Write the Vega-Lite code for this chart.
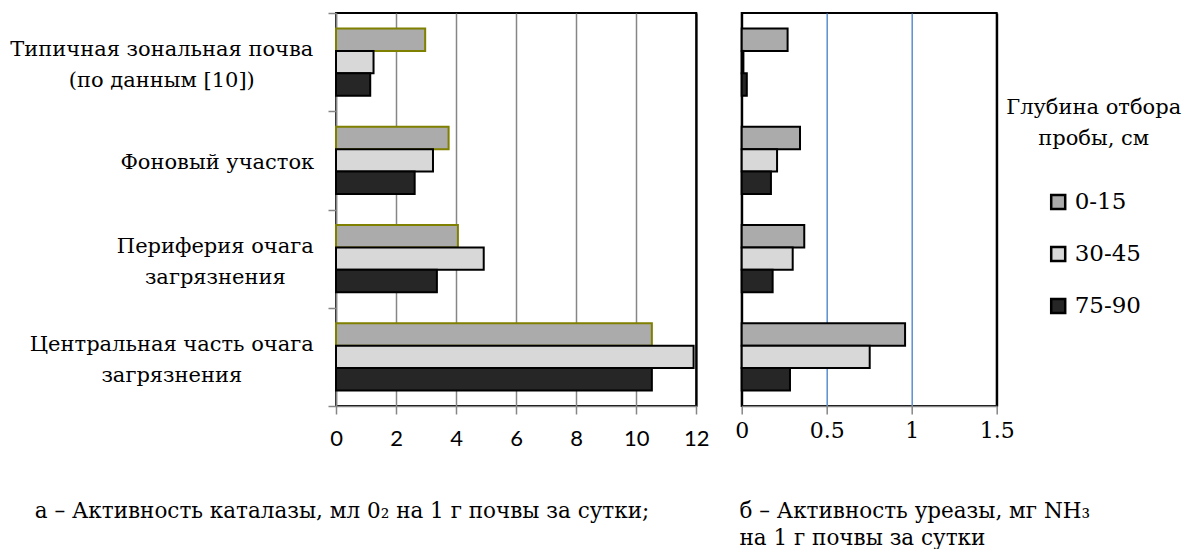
{
  "$schema": "https://vega.github.io/schema/vega-lite/v6.json",
  "padding": {"left": 8, "top": 1, "right": 0, "bottom": 0},
  "background": "white",
  "config": {
    "view": {"stroke": "black", "strokeWidth": 2},
    "font": "DejaVu Serif",
    "axis": {
      "labelFont": "DejaVu Serif",
      "titleFont": "DejaVu Serif",
      "labelColor": "black",
      "titleColor": "black",
      "titleFontWeight": "normal",
      "domainColor": "#868686",
      "tickColor": "#868686",
      "domainWidth": 1.5,
      "tickWidth": 1.5
    },
    "legend": {
      "titleFont": "DejaVu Serif",
      "labelFont": "DejaVu Serif"
    }
  },
  "datasets": {
    "soil": [
      {"site": "Типичная зональная почва|(по данным [10])", "depth": "0-15", "catalase": 2.97, "urease": 0.27},
      {"site": "Типичная зональная почва|(по данным [10])", "depth": "30-45", "catalase": 1.25, "urease": 0.01},
      {"site": "Типичная зональная почва|(по данным [10])", "depth": "75-90", "catalase": 1.14, "urease": 0.03},
      {"site": "Фоновый участок", "depth": "0-15", "catalase": 3.75, "urease": 0.343},
      {"site": "Фоновый участок", "depth": "30-45", "catalase": 3.23, "urease": 0.208},
      {"site": "Фоновый участок", "depth": "75-90", "catalase": 2.62, "urease": 0.172},
      {"site": "Периферия очага|загрязнения", "depth": "0-15", "catalase": 4.06, "urease": 0.368},
      {"site": "Периферия очага|загрязнения", "depth": "30-45", "catalase": 4.92, "urease": 0.30},
      {"site": "Периферия очага|загрязнения", "depth": "75-90", "catalase": 3.36, "urease": 0.182},
      {"site": "Центральная часть очага|загрязнения", "depth": "0-15", "catalase": 10.52, "urease": 0.961},
      {"site": "Центральная часть очага|загрязнения", "depth": "30-45", "catalase": 11.91, "urease": 0.753},
      {"site": "Центральная часть очага|загрязнения", "depth": "75-90", "catalase": 10.52, "urease": 0.284}
    ]
  },
  "spacing": 44.7,
  "bounds": "flush",
  "resolve": {"legend": {"fill": "independent"}},
  "hconcat": [
    {
      "data": {"name": "soil"},
      "width": 360.3,
      "height": 393,
      "mark": {"type": "bar", "strokeWidth": 2},
      "encoding": {
        "y": {
          "field": "site", "type": "nominal",
          "sort": ["Типичная зональная почва|(по данным [10])", "Фоновый участок", "Периферия очага|загрязнения", "Центральная часть очага|загрязнения"],
          "scale": {"paddingInner": 0, "paddingOuter": 0},
          "axis": {
            "title": null,
            "labelExpr": "split(datum.label, '|')",
            "labelFontSize": 21,
            "labelLineHeight": 31,
            "labelAlign": "center",
            "labelBaseline": "middle",
            "labelLimit": 0,
            "labelPadding": {
              "condition": [
                {"test": "datum.value === 'Типичная зональная почва|(по данным [10])'", "value": 166.7},
                {"test": "datum.value === 'Фоновый участок'", "value": 111.2},
                {"test": "datum.value === 'Периферия очага|загрязнения'", "value": 113.2}
              ],
              "value": 156.7
            },
            "labelOffset": {
              "condition": {"test": "datum.value === 'Фоновый участок'", "value": 2},
              "value": -12.5
            },
            "tickBand": "extent",
            "tickSize": 8
          }
        },
        "yOffset": {
          "field": "depth", "type": "nominal",
          "sort": ["0-15", "30-45", "75-90"],
          "scale": {"paddingInner": 0, "paddingOuter": 0.69}
        },
        "x": {
          "field": "catalase", "type": "quantitative",
          "scale": {"domain": [0, 12], "nice": false},
          "axis": {
            "values": [0, 2, 4, 6, 8, 10, 12],
            "labelFont": "Lato",
            "labelFontSize": 22,
            "labelPadding": 14,
            "labelFlush": false,
            "tickSize": 8,
            "grid": true,
            "gridColor": {"condition": {"test": "datum.value === 12", "value": "black"}, "value": "#868686"},
            "gridWidth": {"condition": {"test": "datum.value === 12", "value": 2}, "value": 1.5},
            "title": "а – Активность каталазы, мл 0₂ на 1 г почвы за сутки;",
            "titleFontSize": 21.5,
            "titleX": -301.7,
            "titleY": 111,
            "titleAlign": "left",
            "titleBaseline": "alphabetic",
            "titleAngle": 0
          }
        },
        "fill": {
          "field": "depth", "type": "nominal",
          "scale": {"domain": ["0-15", "30-45", "75-90"], "range": ["#ababab", "#d8d8d8", "#262626"]},
          "legend": null
        },
        "stroke": {"condition": {"test": "datum.depth === '0-15'", "value": "#7f7f00"}, "value": "black"}
      }
    },
    {
      "data": {"name": "soil"},
      "width": 255,
      "height": 393,
      "mark": {"type": "bar", "strokeWidth": 2, "stroke": "black"},
      "encoding": {
        "y": {
          "field": "site", "type": "nominal",
          "sort": ["Типичная зональная почва|(по данным [10])", "Фоновый участок", "Периферия очага|загрязнения", "Центральная часть очага|загрязнения"],
          "scale": {"paddingInner": 0, "paddingOuter": 0},
          "axis": null
        },
        "yOffset": {
          "field": "depth", "type": "nominal",
          "sort": ["0-15", "30-45", "75-90"],
          "scale": {"paddingInner": 0, "paddingOuter": 0.69}
        },
        "x": {
          "field": "urease", "type": "quantitative",
          "scale": {"domain": [0, 1.5], "nice": false},
          "axis": {
            "values": [0, 0.5, 1, 1.5],
            "format": ".1~f",
            "labelFontSize": 22,
            "labelPadding": 6,
            "labelFlush": false,
            "tickSize": 8,
            "grid": true,
            "gridColor": {"condition": {"test": "datum.value === 0 || datum.value === 1.5", "value": "black"}, "value": "#5b8fd0"},
            "gridWidth": {"condition": {"test": "datum.value === 0 || datum.value === 1.5", "value": 2}, "value": 1.5},
            "title": ["б – Активность уреазы, мг NH₃", "на 1 г почвы за сутки"],
            "titleFontSize": 21.5,
            "titleLineHeight": 27,
            "titleX": -2.7,
            "titleY": 111,
            "titleAlign": "left",
            "titleBaseline": "alphabetic",
            "titleAngle": 0
          }
        },
        "fill": {
          "field": "depth", "type": "nominal",
          "scale": {"domain": ["0-15", "30-45", "75-90"], "range": ["#ababab", "#d8d8d8", "#262626"]},
          "legend": {
            "orient": "none",
            "legendX": 265,
            "legendY": 83.5,
            "title": ["Глубина отбора", "пробы, см"],
            "titleFontSize": 21,
            "titleFontWeight": "normal",
            "titleColor": "black",
            "titleLineHeight": 31,
            "titleAlign": "center",
            "titleAnchor": "middle",
            "titlePadding": 42,
            "titleLimit": 0,
            "labelFontSize": 23,
            "labelColor": "black",
            "labelLimit": 0,
            "labelOffset": 5,
            "symbolType": "square",
            "symbolSize": 196,
            "symbolStrokeColor": "black",
            "symbolStrokeWidth": 2.5,
            "rowPadding": 27,
            "padding": 0
          }
        }
      }
    }
  ]
}
